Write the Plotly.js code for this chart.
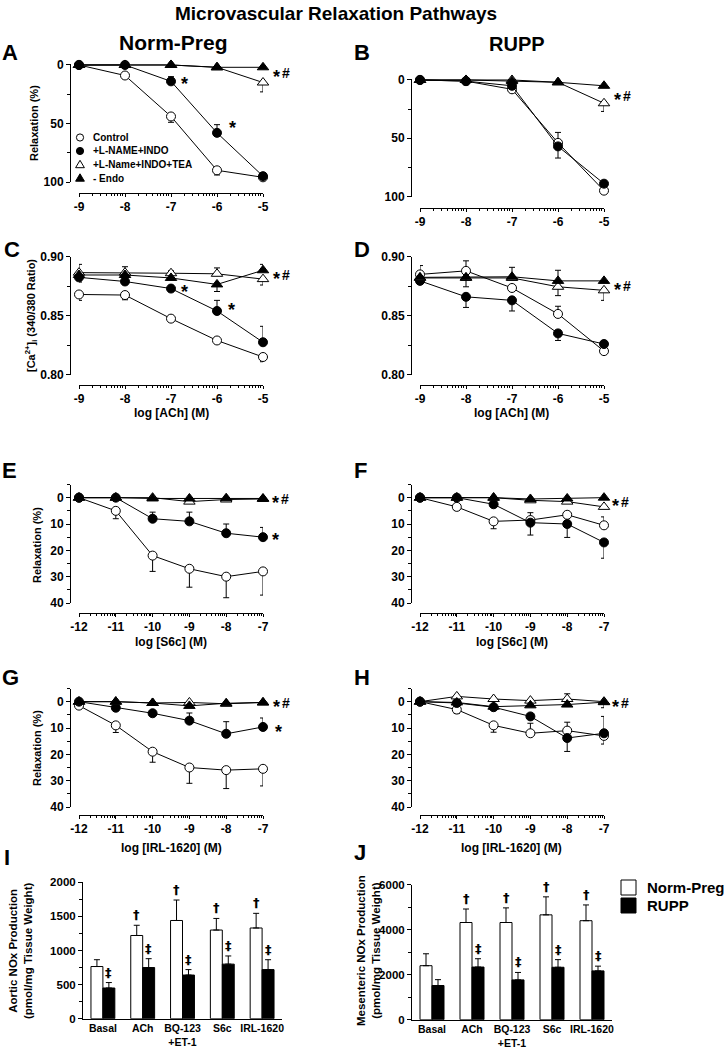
<!DOCTYPE html>
<html><head><meta charset="utf-8">
<script src="https://cdn.plot.ly/plotly-3.0.1.min.js"></script>
<style>html,body{margin:0;padding:0;background:#fff}#chart{width:725px;height:1048px}</style>
</head><body><div id="chart"></div>
<script>
// ================= DATA =================
const seriesNames = ['Control', '+L-NAME+INDO', '+L-Name+INDO+TEA', '- Endo'];
const achDoses = [-9, -8, -7, -6, -5];
const achTickText = ['-9', '-8', '-7', '-6', '-5'];
const etDoses = [-12, -11, -10, -9, -8, -7];
const etTickText = ['-12', '-11', '-10', '-9', '-8', '-7'];

// errors: positive = +err (value + e), negative = -err (value - e)
// A: Norm-Preg, ACh relaxation (%)
const A_ctrl = [0, 9, 44, 90, 96];          const A_ctrlErr = [0, 1, 5, 4, 2];
const A_lname = [0, 0, 14, 58, 95];         const A_lnameErr = [0, 0, -4, -7, 0];
const A_tea = [0, 0, 0, 2, 15];             const A_teaErr = [0, 0, 0, 0, 8];
const A_endo = [0, 0, 0, 2, 2];             const A_endoErr = [0, 0, 0, 0, 0];
// B: RUPP, ACh relaxation (%)
const B_ctrl = [0, 1, 8, 54, 95];           const B_ctrlErr = [0, 0, 0, -9, 0];
const B_lname = [0, 1, 5, 57, 89];          const B_lnameErr = [0, 0, 0, 10, 0];
const B_tea = [0, 0, 0, 2, 20];             const B_teaErr = [0, 0, 0, 0, 7];
const B_endo = [0, 0, 1, 2, 5];             const B_endoErr = [0, 0, 0, 0, 0];
// C: Norm-Preg, [Ca2+]i
const C_ctrl = [0.868, 0.8675, 0.8475, 0.829, 0.815];   const C_ctrlErr = [-0.005, -0.004, -0.002, -0.002, -0.004];
const C_lname = [0.8825, 0.879, 0.873, 0.854, 0.8275];  const C_lnameErr = [-0.004, 0, 0, 0.009, 0.0135];
const C_tea = [0.8865, 0.8865, 0.886, 0.8855, 0.881];   const C_teaErr = [0.007, 0.005, 0.002, 0.005, -0.005];
const C_endo = [0.8845, 0.8845, 0.882, 0.8765, 0.8885]; const C_endoErr = [0, 0, 0, -0.006, 0.005];
// D: RUPP, [Ca2+]i
const D_ctrl = [0.885, 0.888, 0.8735, 0.8515, 0.820];   const D_ctrlErr = [0.0075, 0.0085, 0, 0.0065, 0];
const D_lname = [0.8795, 0.866, 0.863, 0.835, 0.826];   const D_lnameErr = [0, -0.009, -0.009, -0.006, 0];
const D_tea = [0.882, 0.882, 0.882, 0.8745, 0.8715];    const D_teaErr = [0, 0, 0, -0.0075, -0.0085];
const D_endo = [0.8825, 0.8825, 0.883, 0.8795, 0.8795]; const D_endoErr = [0, -0.008, 0.008, 0.009, 0];
// E: Norm-Preg, S6c relaxation (%)
const E_ctrl = [0, 5, 22, 27, 30, 28];        const E_ctrlErr = [0, 3, 6, 7, 8, 9];
const E_lname = [0, 0, 8, 9, 13.5, 15];       const E_lnameErr = [0, 0, -2.5, -3.5, -3.5, -3.7];
const E_tea = [0, 0, 0, 1.5, 0.7, 0.5];       const E_teaErr = [0, 0, 0, 0, 0, 0];
const E_endo = [0, 0, 0.3, 0.3, 0.2, 0.3];    const E_endoErr = [0, 0, 0, 0, 0, 0];
// F: RUPP, S6c relaxation (%)
const F_ctrl = [0, 3.5, 9, 8.5, 6.5, 10.5];   const F_ctrlErr = [0, 1.3, 2.8, -2.8, 0, -3.2];
const F_lname = [0, 0, 2.5, 9.5, 10, 17];     const F_lnameErr = [0, 0, 1, 4.7, 5.1, 6];
const F_tea = [0, 0, 0, 1, 1.5, 3.5];         const F_teaErr = [0, 0, 0, 0, 0, 0];
const F_endo = [0, 0, 0, 0.5, 0.3, 0];        const F_endoErr = [0, 0, 0, 0, 0, 0];
// G: Norm-Preg, IRL-1620 relaxation (%)
const G_ctrl = [1.5, 9, 19, 25, 26, 25.5];    const G_ctrlErr = [1, 2.7, 4, 6, 7, 6.5];
const G_lname = [0, 2.3, 4.4, 7.2, 12.2, 9.6];const G_lnameErr = [0, 0, 0, -2.9, -4.6, -3.4];
const G_tea = [0, 0, 0.5, 0.3, 0.8, 0.3];     const G_teaErr = [0, 0, 0, 0, 0, 0];
const G_endo = [0, 0, 0.5, 1.6, 0.6, 0.3];    const G_endoErr = [0, 0, 0, 0, 0, 0];
// H: RUPP, IRL-1620 relaxation (%)
const H_ctrl = [0, 3, 9, 12, 11, 13];         const H_ctrlErr = [0, 1.5, 2.6, -3.8, -3.2, 3.1];
const H_lname = [0, 0.5, 2.1, 5.6, 13.8, 12]; const H_lnameErr = [0, 0, 0, 0, 5.1, -6.4];
const H_tea = [0, -2, -1, -0.4, -1, 0];       const H_teaErr = [0, 0, 0, 0, -2, 2.3];
const H_endo = [0, 0.3, 1.9, 1.4, 1.1, 0.2];  const H_endoErr = [0, 0, 0, 0, 0, 0];

// I / J: NOx production bars
const barCats = ['Basal', 'ACh', 'BQ-123<br>+ET-1', 'S6c', 'IRL-1620'];
const groupNames = ['Norm-Preg', 'RUPP'];
const I_norm = [765, 1220, 1440, 1300, 1330];   const I_normErr = [100, 150, 300, 170, 215];
const I_rupp = [450, 750, 640, 800, 720];       const I_ruppErr = [80, 130, 80, 120, 145];
const J_norm = [2400, 4320, 4320, 4660, 4400];  const J_normErr = [530, 600, 650, 800, 700];
const J_rupp = [1520, 2340, 1770, 2330, 2170];  const J_ruppErr = [260, 370, 330, 340, 210];
const I_normMark = ['', '†', '†', '†', '†'];
const I_ruppMark = ['‡', '‡', '‡', '‡', '‡'];
const J_normMark = ['', '†', '†', '†', '†'];
const J_ruppMark = ['', '‡', '‡', '‡', '‡'];

// ================= LAYOUT HELPERS =================
const W = 725, Hh = 1048;
const FONT = 'Liberation Sans, Arial, Helvetica, sans-serif';
const P = x => x / W;
const Q = y => 1 - y / Hh;
const bold = (size, fam) => ({family: fam || FONT, size: size, color: '#000000', weight: 'bold'});

const seriesStyles = [
  {symbol: 'circle', fill: 'white', size: 9},
  {symbol: 'circle', fill: 'black', size: 9},
  {symbol: 'triangle-up', fill: 'white', size: 10},
  {symbol: 'triangle-up', fill: 'black', size: 10}
];

const panels = [
  {n: 1, x: achDoses, tt: achTickText, s: [[A_ctrl, A_ctrlErr], [A_lname, A_lnameErr], [A_tea, A_teaErr], [A_endo, A_endoErr]],
   xpx: [79, 263], ypx: [63.8, 182], yr: [100, -1], ytv: [0, 50, 100], ytt: ['0', '50', '100'], ymin: [25, 75], yAxisX: 70, xAxisY: 193},
  {n: 2, x: achDoses, tt: achTickText, s: [[B_ctrl, B_ctrlErr], [B_lname, B_lnameErr], [B_tea, B_teaErr], [B_endo, B_endoErr]],
   xpx: [420, 604], ypx: [78.8, 196.5], yr: [100, -1], ytv: [0, 50, 100], ytt: ['0', '50', '100'], ymin: [25, 75], yAxisX: 411, xAxisY: 207.7},
  {n: 3, x: achDoses, tt: achTickText, s: [[C_ctrl, C_ctrlErr], [C_lname, C_lnameErr], [C_tea, C_teaErr], [C_endo, C_endoErr]],
   xpx: [79, 263], ypx: [256.7, 374.7], yr: [0.80, 0.90], ytv: [0.80, 0.85, 0.90], ytt: ['0.80', '0.85', '0.90'], ymin: [0.825, 0.875], yAxisX: 70, xAxisY: 385},
  {n: 4, x: achDoses, tt: achTickText, s: [[D_ctrl, D_ctrlErr], [D_lname, D_lnameErr], [D_tea, D_teaErr], [D_endo, D_endoErr]],
   xpx: [420, 604], ypx: [256.7, 374.7], yr: [0.80, 0.90], ytv: [0.80, 0.85, 0.90], ytt: ['0.80', '0.85', '0.90'], ymin: [0.825, 0.875], yAxisX: 411, xAxisY: 385},
  {n: 5, x: etDoses, tt: etTickText, s: [[E_ctrl, E_ctrlErr], [E_lname, E_lnameErr], [E_tea, E_teaErr], [E_endo, E_endoErr]],
   xpx: [79, 263], ypx: [484.5, 603], yr: [40, -5], ytv: [0, 10, 20, 30, 40], ytt: ['0', '10', '20', '30', '40'], ymin: [-5, 5, 15, 25, 35], yAxisX: 70, xAxisY: 612.7},
  {n: 6, x: etDoses, tt: etTickText, s: [[F_ctrl, F_ctrlErr], [F_lname, F_lnameErr], [F_tea, F_teaErr], [F_endo, F_endoErr]],
   xpx: [420, 604], ypx: [484.5, 603], yr: [40, -5], ytv: [0, 10, 20, 30, 40], ytt: ['0', '10', '20', '30', '40'], ymin: [-5, 5, 15, 25, 35], yAxisX: 411, xAxisY: 612.7},
  {n: 7, x: etDoses, tt: etTickText, s: [[G_ctrl, G_ctrlErr], [G_lname, G_lnameErr], [G_tea, G_teaErr], [G_endo, G_endoErr]],
   xpx: [79, 263], ypx: [688.5, 807], yr: [40, -5], ytv: [0, 10, 20, 30, 40], ytt: ['0', '10', '20', '30', '40'], ymin: [-5, 5, 15, 25, 35], yAxisX: 70, xAxisY: 815},
  {n: 8, x: etDoses, tt: etTickText, s: [[H_ctrl, H_ctrlErr], [H_lname, H_lnameErr], [H_tea, H_teaErr], [H_endo, H_endoErr]],
   xpx: [420, 604], ypx: [688.5, 807], yr: [40, -5], ytv: [0, 10, 20, 30, 40], ytt: ['0', '10', '20', '30', '40'], ymin: [-5, 5, 15, 25, 35], yAxisX: 411, xAxisY: 815}
];

const traces = [];
const layout = {
  width: W, height: Hh, margin: {l: 0, r: 0, t: 0, b: 0},
  paper_bgcolor: 'white', plot_bgcolor: 'rgba(0,0,0,0)',
  showlegend: false, barmode: 'group', bargap: 0.4, bargroupgap: 0,
  font: {family: FONT, color: 'black'},
  annotations: [], shapes: []
};

function logMinor(x0, x1) {
  const v = [];
  for (let d = x0; d < x1; d++) for (let k = 2; k <= 9; k++) v.push(d + Math.log10(k));
  return v;
}

panels.forEach(p => {
  const sfx = p.n === 1 ? '' : String(p.n);
  const xr = [p.x[0], p.x[p.x.length - 1]];
  layout['xaxis' + sfx] = {
    domain: [P(p.xpx[0]), P(p.xpx[1])], range: xr, anchor: 'free', position: Q(p.xAxisY),
    tickmode: 'array', tickvals: p.x, ticktext: p.tt, ticks: 'outside', ticklen: 3, tickwidth: 1, tickcolor: 'black',
    showline: true, linecolor: 'black', linewidth: 1, showgrid: false, zeroline: false, fixedrange: true,
    tickfont: bold(12),
    minor: {tickmode: 'array', tickvals: logMinor(xr[0], xr[1]), ticks: 'outside', ticklen: 2, tickwidth: 1, tickcolor: 'black', showgrid: false}
  };
  layout['yaxis' + sfx] = {
    domain: [Q(p.ypx[1]), Q(p.ypx[0])], range: p.yr, anchor: 'free', position: P(p.yAxisX),
    tickmode: 'array', tickvals: p.ytv, ticktext: p.ytt, ticks: 'outside', ticklen: 4, tickwidth: 1, tickcolor: 'black',
    showline: true, linecolor: 'black', linewidth: 1, showgrid: false, zeroline: false, fixedrange: true,
    tickfont: bold(12),
    minor: {tickmode: 'array', tickvals: p.ymin, ticks: 'outside', ticklen: 3, tickwidth: 1, tickcolor: 'black', showgrid: false}
  };
  p.s.forEach((pair, i) => {
    const vals = pair[0], err = pair[1], st = seriesStyles[i];
    traces.push({
      type: 'scatter', mode: 'lines+markers', name: seriesNames[i],
      x: p.x, y: vals, xaxis: 'x' + sfx, yaxis: 'y' + sfx, cliponaxis: false, showlegend: false,
      line: {color: 'black', width: 1},
      marker: {symbol: st.symbol, size: st.size, color: st.fill, line: {color: 'black', width: 1}},
      error_y: {type: 'data', symmetric: false, array: err.map(e => Math.max(e, 0)), arrayminus: err.map(e => Math.max(-e, 0)),
                color: 'black', thickness: 1, width: 3}
    });
  });
});

// ---- bar panels I (9) and J (10) ----
const barPanels = [
  {n: 9, norm: I_norm, normErr: I_normErr, rupp: I_rupp, ruppErr: I_ruppErr, nm: I_normMark, rm: I_ruppMark,
   xpx: [83, 282], ypx: [882.3, 1018.7], yr: [0, 2000], ytv: [0, 500, 1000, 1500, 2000], ymin: [250, 750, 1250, 1750]},
  {n: 10, norm: J_norm, normErr: J_normErr, rupp: J_rupp, ruppErr: J_ruppErr, nm: J_normMark, rm: J_ruppMark,
   xpx: [412, 612], ypx: [884.7, 1019.7], yr: [0, 6000], ytv: [0, 2000, 4000, 6000], ymin: [1000, 3000, 5000]}
];
barPanels.forEach(b => {
  const sfx = String(b.n);
  layout['xaxis' + sfx] = {
    domain: [P(b.xpx[0]), P(b.xpx[1])], anchor: 'y' + sfx, type: 'category', range: [-0.5, 4.5],
    ticks: '', showline: true, linecolor: 'black', linewidth: 1, showgrid: false, zeroline: false, fixedrange: true,
    tickfont: bold(10.5)
  };
  layout['yaxis' + sfx] = {
    domain: [Q(b.ypx[1]), Q(b.ypx[0])], anchor: 'x' + sfx, range: b.yr,
    tickmode: 'array', tickvals: b.ytv, ticks: 'outside', ticklen: 4, tickwidth: 1, tickcolor: 'black',
    showline: true, linecolor: 'black', linewidth: 1, showgrid: false, zeroline: false, fixedrange: true,
    tickfont: bold(11.5),
    minor: {tickmode: 'array', tickvals: b.ymin, ticks: 'outside', ticklen: 3, tickwidth: 1, tickcolor: 'black', showgrid: false}
  };
  [[b.norm, b.normErr, 'white', b.nm, -0.15], [b.rupp, b.ruppErr, 'black', b.rm, 0.15]].forEach((g, gi) => {
    traces.push({
      type: 'bar', name: groupNames[gi], x: barCats, y: g[0], xaxis: 'x' + sfx, yaxis: 'y' + sfx, showlegend: false,
      marker: {color: g[2], line: {color: 'black', width: 1}},
      error_y: {type: 'data', symmetric: false, array: g[1], arrayminus: [], color: 'black', thickness: 1, width: 3}
    });
    g[3].forEach((m, i) => {
      if (!m) return;
      layout.annotations.push({xref: 'x' + sfx, yref: 'y' + sfx, x: i + g[4], y: g[0][i] + g[1][i], text: m,
        showarrow: false, xanchor: 'center', yanchor: 'bottom', yshift: 1, font: bold(13, 'DejaVu Sans, sans-serif')});
    });
  });
});

// ---- texts ----
function ann(x, y, text, size, extra) {
  return Object.assign({xref: 'paper', yref: 'paper', x: P(x), y: Q(y), text: text, showarrow: false,
    xanchor: 'center', yanchor: 'middle', font: bold(size)}, extra || {});
}
const A = layout.annotations;
A.push(ann(336, 13, 'Microvascular Relaxation Pathways', 19));
A.push(ann(173, 43, 'Norm-Preg', 21));
A.push(ann(517, 44, 'RUPP', 20));
// panel letters
[['A', 0, 52], ['B', 352, 52], ['C', 2, 249], ['D', 352, 249], ['E', 0, 470], ['F', 352, 470],
 ['G', 0, 677], ['H', 352, 677], ['I', 2, 857], ['J', 352, 852]].forEach(l => A.push(ann(l[1], l[2], l[0], 22, {xanchor: 'left'})));
// axis titles
A.push(ann(34, 123, 'Relaxation (%)', 11, {textangle: -90}));
A.push(ann(31, 316, '[Ca<sup>2+</sup>]<sub>i</sub> (340/380 Ratio)', 11, {textangle: -90}));
A.push(ann(37, 545, 'Relaxation (%)', 11, {textangle: -90}));
A.push(ann(37, 748, 'Relaxation (%)', 11, {textangle: -90}));
A.push(ann(171, 413, 'log [ACh] (M)', 12));
A.push(ann(512, 413, 'log [ACh] (M)', 12));
A.push(ann(171, 642, 'log [S6c] (M)', 12));
A.push(ann(512, 642, 'log [S6c] (M)', 12));
A.push(ann(171, 848, 'log [IRL-1620] (M)', 12));
A.push(ann(512, 848, 'log [IRL-1620] (M)', 12));
A.push(ann(20, 951, 'Aortic NOx Production<br>(pmol/mg Tissue Weight)', 11.5, {textangle: -90}));
A.push(ann(368, 951, 'Mesenteric NOx Production<br>(pmol/mg Tissue Weight)', 11.5, {textangle: -90}));
// significance marks
function star(x, y) { A.push(ann(x, y + 4, '*', 18)); }
function starHash(x, y) { star(x, y); A.push(ann(x + 10, y, '#', 14)); }
starHash(276, 73); star(184, 80); star(232, 124);
starHash(617, 96);
starHash(276, 275); star(184, 288); star(231, 306);
starHash(617, 286);
starHash(275, 499); star(275, 536);
starHash(615, 502);
starHash(276, 703); star(278, 728);
starHash(615, 703);

// legend of panel A (symbols as shapes, labels as text)
const legRows = [137.5, 151, 164.5, 178];
legRows.forEach((ry, i) => {
  const st = seriesStyles[i], cx = 80, r = 3.6;
  if (st.symbol === 'circle') {
    layout.shapes.push({type: 'circle', xref: 'paper', yref: 'paper', x0: P(cx - r), x1: P(cx + r), y0: Q(ry + r), y1: Q(ry - r),
      fillcolor: st.fill, line: {color: 'black', width: 1}});
  } else {
    layout.shapes.push({type: 'path', xref: 'paper', yref: 'paper',
      path: 'M' + P(cx) + ',' + Q(ry - 4.2) + ' L' + P(cx - 4.4) + ',' + Q(ry + 3.2) + ' L' + P(cx + 4.4) + ',' + Q(ry + 3.2) + ' Z',
      fillcolor: st.fill, line: {color: 'black', width: 1}});
  }
  A.push(ann(91, ry, seriesNames[i], 10, {xanchor: 'left'}));
});
// legend of bar panels
[['white', 880], ['black', 898]].forEach((s, i) => {
  layout.shapes.push({type: 'rect', xref: 'paper', yref: 'paper', x0: P(621), x1: P(636), y0: Q(s[1] + 15), y1: Q(s[1]),
    fillcolor: s[0], line: {color: 'black', width: 1}});
  A.push(ann(645, s[1] + 7.5, groupNames[i], 15, {xanchor: 'left'}));
});

Plotly.newPlot('chart', traces, layout, {staticPlot: true, displayModeBar: false});
</script>
</body></html>
